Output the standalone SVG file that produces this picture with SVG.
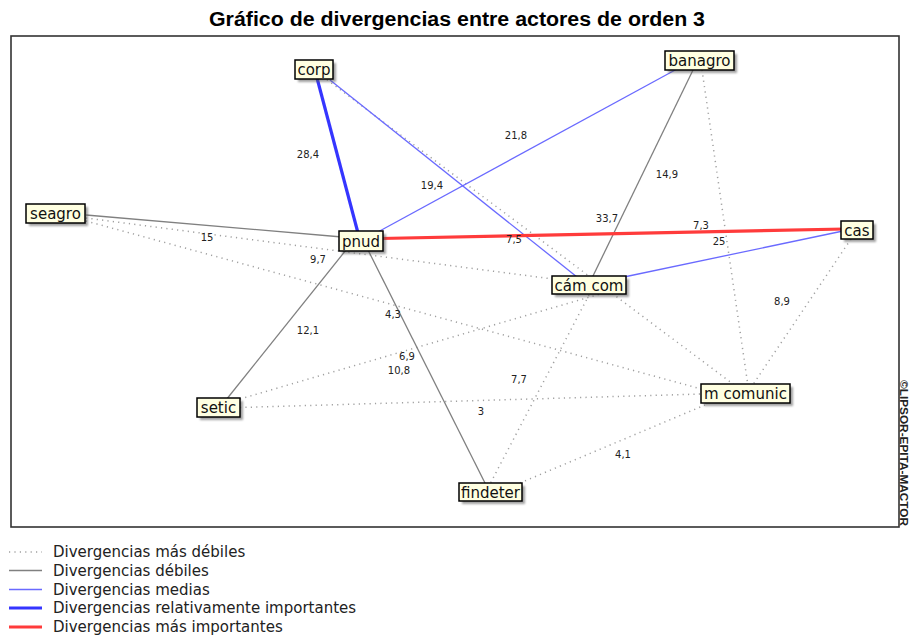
<svg xmlns="http://www.w3.org/2000/svg" width="912" height="639" viewBox="0 0 912 639">
<style>
.title{font-family:"Liberation Sans",Arial,sans-serif;font-weight:bold;font-size:20px;fill:#000}
.nt{font-family:"DejaVu Sans","Liberation Sans",sans-serif;font-size:15px;fill:#111}
.el{font-family:"DejaVu Sans","Liberation Sans",sans-serif;font-size:10px;fill:#222;text-anchor:middle}
.lg{font-family:"DejaVu Sans","Liberation Sans",sans-serif;font-size:15px;fill:#222}
.box{fill:#ffffe1;stroke:#000;stroke-width:1.5}
.sh{fill:#555;opacity:0.55}
.dot{stroke:#a0a0a0;stroke-width:1.5;stroke-dasharray:1.2 4.2;fill:none}
.gray{stroke:#808080;stroke-width:1.3;fill:none}
.blue{stroke:#6a6aff;stroke-width:1.3;fill:none}
.tblue{stroke:#3535ff;stroke-width:3.2;fill:none}
.red{stroke:#ff3b3b;stroke-width:3.2;fill:none}
</style>
<defs>
<filter id="blur" x="-20%" y="-20%" width="140%" height="140%"><feGaussianBlur stdDeviation="1"/></filter>
</defs>
<rect width="912" height="639" fill="#fff"/>
<text class="title" x="457" y="26" text-anchor="middle" textLength="496" lengthAdjust="spacingAndGlyphs">Gráfico de divergencias entre actores de orden 3</text>
<rect x="11" y="36" width="888" height="491" fill="none" stroke="#333" stroke-width="1.6"/>
<text x="900" y="380" transform="rotate(90 900 380)" font-family="Liberation Sans,Arial,sans-serif" font-size="10" font-weight="bold" fill="#222" textLength="146" lengthAdjust="spacingAndGlyphs">©LIPSOR-EPITA-MACTOR</text>

<g id="connectors">
  <line class="dot" x1="86" y1="218" x2="553" y2="279"/>
  <line class="dot" x1="86" y1="221" x2="705" y2="390"/>
  <line class="dot" x1="314" y1="70" x2="745" y2="393"/>
  <line class="dot" x1="702" y1="70" x2="748" y2="386"/>
  <line class="dot" x1="851" y1="239" x2="752" y2="386"/>
  <line class="dot" x1="240" y1="399" x2="600" y2="294"/>
  <line class="dot" x1="589" y1="295" x2="490" y2="484"/>
  <line class="dot" x1="240" y1="407.5" x2="702" y2="394"/>
  <line class="dot" x1="520" y1="483" x2="705" y2="405"/>
  <line class="gray" x1="86" y1="215" x2="342" y2="237"/>
  <line class="gray" x1="694" y1="68" x2="592" y2="278"/>
  <line class="gray" x1="346" y1="250" x2="226" y2="400"/>
  <line class="gray" x1="368" y1="250" x2="486" y2="485"/>
  <line class="blue" x1="330" y1="80" x2="577" y2="277"/>
  <line class="blue" x1="677" y1="69" x2="376" y2="233"/>
  <line class="blue" x1="624" y1="277" x2="843" y2="231"/>
  <line class="tblue" x1="317" y1="78" x2="358" y2="233"/>
  <line class="red" x1="380" y1="238.5" x2="845" y2="229"/>
</g>

<g id="edge-labels">
  <text class="el" x="308" y="158">28,4</text>
  <text class="el" x="516" y="139">21,8</text>
  <text class="el" x="432" y="189">19,4</text>
  <text class="el" x="667" y="178">14,9</text>
  <text class="el" x="607" y="222">33,7</text>
  <text class="el" x="701" y="229">7,3</text>
  <text class="el" x="514" y="243">7,5</text>
  <text class="el" x="719" y="245">25</text>
  <text class="el" x="207" y="241">15</text>
  <text class="el" x="318" y="263">9,7</text>
  <text class="el" x="782" y="305">8,9</text>
  <text class="el" x="308" y="334">12,1</text>
  <text class="el" x="393" y="318">4,3</text>
  <text class="el" x="407" y="360">6,9</text>
  <text class="el" x="399" y="374">10,8</text>
  <text class="el" x="519" y="383">7,7</text>
  <text class="el" x="481" y="415">3</text>
  <text class="el" x="623" y="458">4,1</text>
</g>

<g id="corp">
  <rect class="sh" x="298" y="63" width="38" height="19" filter="url(#blur)"/>
  <rect class="box" x="295" y="60" width="38" height="19"/>
  <text class="nt" x="314" y="75" text-anchor="middle">corp</text>
</g>
<g id="banagro">
  <rect class="sh" x="668" y="54" width="69" height="19" filter="url(#blur)"/>
  <rect class="box" x="665" y="51" width="69" height="19"/>
  <text class="nt" x="699.5" y="66" text-anchor="middle">banagro</text>
</g>
<g id="seagro">
  <rect class="sh" x="29" y="207" width="59" height="19" filter="url(#blur)"/>
  <rect class="box" x="26" y="204" width="59" height="19"/>
  <text class="nt" x="55.5" y="219" text-anchor="middle">seagro</text>
</g>
<g id="pnud">
  <rect class="sh" x="342" y="234" width="44" height="20" filter="url(#blur)"/>
  <rect class="box" x="339" y="231" width="44" height="20"/>
  <text class="nt" x="361" y="246.5" text-anchor="middle">pnud</text>
</g>
<g id="cas">
  <rect class="sh" x="844" y="224" width="32" height="18" filter="url(#blur)"/>
  <rect class="box" x="841" y="221" width="32" height="18"/>
  <text class="nt" x="857" y="235.5" text-anchor="middle">cas</text>
</g>
<g id="cam-com">
  <rect class="sh" x="555" y="279" width="74" height="18" filter="url(#blur)"/>
  <rect class="box" x="552" y="276" width="74" height="18"/>
  <text class="nt" x="589" y="290.5" text-anchor="middle">cám com</text>
</g>
<g id="setic">
  <rect class="sh" x="200" y="401" width="43" height="19" filter="url(#blur)"/>
  <rect class="box" x="197" y="398" width="43" height="19"/>
  <text class="nt" x="218.5" y="413" text-anchor="middle">setic</text>
</g>
<g id="findeter">
  <rect class="sh" x="462" y="486" width="63" height="18" filter="url(#blur)"/>
  <rect class="box" x="459" y="483" width="63" height="18"/>
  <text class="nt" x="490.5" y="497.5" text-anchor="middle">findeter</text>
</g>
<g id="m-comunic">
  <rect class="sh" x="704" y="387" width="89" height="19" filter="url(#blur)"/>
  <rect class="box" x="701" y="384" width="89" height="19"/>
  <text class="nt" x="745.5" y="399" text-anchor="middle">m comunic</text>
</g>

<g id="legend">
  <line class="dot" x1="9" y1="552" x2="42" y2="552" stroke="#b0b0b0"/>
  <line class="gray" x1="9" y1="570.5" x2="42" y2="570.5"/>
  <line class="blue" x1="9" y1="589.5" x2="42" y2="589.5"/>
  <line class="tblue" x1="9" y1="608" x2="42" y2="608"/>
  <line class="red" x1="9" y1="627" x2="42" y2="627"/>
  <text class="lg" x="53" y="557">Divergencias más débiles</text>
  <text class="lg" x="53" y="575.5">Divergencias débiles</text>
  <text class="lg" x="53" y="594.5">Divergencias medias</text>
  <text class="lg" x="53" y="613">Divergencias relativamente importantes</text>
  <text class="lg" x="53" y="632">Divergencias más importantes</text>
</g>
</svg>
